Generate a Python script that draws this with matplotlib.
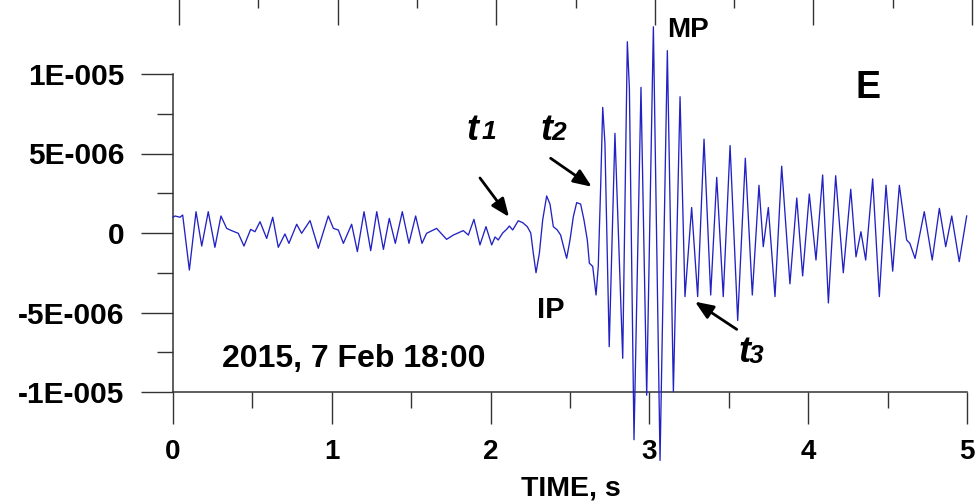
import matplotlib
matplotlib.use('Agg')
import matplotlib.pyplot as plt
from matplotlib.ticker import FixedLocator, MultipleLocator

plt.rcParams['font.family'] = ['Liberation Sans', 'DejaVu Sans']
plt.rcParams['font.weight'] = 'bold'

# E component record, time in s, amplitude in units of 1E-006
time_s = [
    0.000, 0.013, 0.044, 0.061, 0.103, 0.145, 0.181, 0.222, 0.264, 0.302,
    0.338, 0.369, 0.411, 0.447, 0.489, 0.516, 0.548, 0.590, 0.628, 0.663,
    0.705, 0.730, 0.779, 0.810, 0.863, 0.915, 0.978, 1.010, 1.041, 1.073,
    1.125, 1.161, 1.203, 1.245, 1.283, 1.325, 1.362, 1.400, 1.444, 1.486,
    1.528, 1.568, 1.597, 1.660, 1.723, 1.765, 1.828, 1.860, 1.895, 1.933,
    1.971, 2.007, 2.028, 2.048, 2.076, 2.101, 2.118, 2.139, 2.174, 2.202,
    2.231, 2.253, 2.269, 2.286, 2.307, 2.328, 2.353, 2.374, 2.395, 2.420,
    2.441, 2.462, 2.479, 2.500, 2.521, 2.542, 2.567, 2.588, 2.609, 2.622,
    2.643, 2.664, 2.678, 2.693, 2.706, 2.720, 2.747, 2.783, 2.832, 2.861,
    2.874, 2.903, 2.947, 2.983, 3.025, 3.067, 3.113, 3.151, 3.193, 3.224,
    3.266, 3.304, 3.344, 3.386, 3.424, 3.465, 3.508, 3.556, 3.604, 3.648,
    3.690, 3.717, 3.749, 3.791, 3.833, 3.885, 3.928, 3.965, 4.007, 4.049,
    4.091, 4.127, 4.173, 4.221, 4.268, 4.301, 4.332, 4.362, 4.406, 4.448,
    4.490, 4.532, 4.574, 4.620, 4.640, 4.673, 4.731, 4.781, 4.826, 4.866,
    4.904, 4.951, 4.998,
]
amp_e6 = [
    0.99, 1.07, 0.99, 1.13, -2.33, 1.34, -0.82, 1.34, -0.90, 1.07,
    0.29, 0.15, -0.02, -0.82, 0.23, 0.08, 0.71, -0.34, 0.99, -0.90,
    -0.06, -0.65, 0.55, -0.02, 0.78, -0.96, 1.07, 0.29, 0.19, -0.65,
    0.55, -1.17, 1.34, -1.11, 1.34, -1.03, 0.92, -0.65, 1.34, -0.65,
    1.07, -0.65, -0.02, 0.29, -0.40, -0.13, 0.15, -0.13, 0.86, -0.75,
    0.40, -0.75, -0.25, -0.44, 0.00, 0.23, 0.44, 0.19, 0.77, 0.65,
    0.40, 0.00, -1.28, -2.50, -1.28, 0.82, 2.33, 1.82, 0.40, 0.19,
    -0.13, -0.96, -1.59, -0.44, 1.03, 1.91, 1.82, 0.82, -0.44, -1.90,
    -2.10, -3.90, -2.10, 2.90, 7.90, 5.64, -7.15, 6.27, -7.88, 12.03,
    9.10, -13.0, 9.16, -10.2, 12.97, -14.3, 11.47, -9.98, 8.57, -4.0,
    1.6, -4.0, 5.9, -3.9, 3.5, -4.0, 5.5, -5.5, 4.7, -3.9,
    3.0, -0.86, 1.6, -4.0, 4.2, -3.2, 2.2, -2.7, 2.45, -1.7,
    3.65, -4.4, 3.6, -2.5, 2.75, -1.5, 0.08, -1.7, 3.4, -4.0,
    3.0, -2.4, 3.0, -0.44, -0.65, -1.6, 1.34, -1.7, 1.55, -0.86,
    1.07, -1.8, 1.07,
]

x_ticks = [0, 1, 2, 3, 4, 5]
y_ticks = [-1e-5, -5e-6, 0, 5e-6, 1e-5]
y_labels = ['-1E-005', '-5E-006', '0', '5E-006', '1E-005']

axis_color = '#333333'

fig = plt.figure(figsize=(9.76, 5.04), dpi=100)
ax = fig.add_axes([173 / 976, 112 / 504, 794 / 976, 318 / 504])

amp = [a * 1e-6 for a in amp_e6]
ax.plot(time_s, amp, color='#2222c4', lw=0.95, clip_on=False, zorder=3)

ax.set_xlim(0, 5)
ax.set_ylim(-1e-5, 1e-5)
ax.xaxis.set_major_locator(FixedLocator(x_ticks))
ax.xaxis.set_minor_locator(MultipleLocator(0.5))
ax.set_xticklabels([str(x) for x in x_ticks])
ax.yaxis.set_major_locator(FixedLocator(y_ticks))
ax.yaxis.set_minor_locator(MultipleLocator(2.5e-6))
ax.set_yticklabels(y_labels)

for side in ['top', 'right']:
    ax.spines[side].set_visible(False)
for side in ['left', 'bottom']:
    ax.spines[side].set_color(axis_color)
    ax.spines[side].set_linewidth(1.1)

ax.tick_params(which='major', direction='out', length=23, width=1.0,
               color=axis_color)
ax.tick_params(which='minor', direction='out', length=11.5, width=1.0,
               color=axis_color)
ax.tick_params(axis='y', which='major', pad=12, labelsize=21.5)
ax.tick_params(axis='x', which='major', pad=11, labelsize=20)

fig.text(571 / 976, 8 / 504, 'TIME, s', ha='center', va='baseline', fontsize=20.5)

# labels on the trace
ax.text(3.111, 12.33e-6, 'MP', fontsize=20, va='baseline', ha='left')
ax.text(4.295, 8.49e-6, 'E', fontsize=27, va='baseline', ha='left')
ax.text(2.292, -5.35e-6, 'IP', fontsize=21, va='baseline', ha='left')
ax.text(0.309, -8.43e-6, '2015, 7 Feb 18:00', fontsize=23, va='baseline', ha='left')

marks = [
    ('t', '1', (1.851, 5.85e-6), (1.945, 5.91e-6)),
    ('t', '2', (2.311, 5.85e-6), (2.381, 5.85e-6)),
    ('t', '3', (3.558, -8.11e-6), (3.628, -8.18e-6)),
]
for main, sub, p_main, p_sub in marks:
    ax.text(p_main[0], p_main[1], main, fontsize=26, fontstyle='italic',
            va='baseline', ha='left')
    ax.text(p_sub[0], p_sub[1], sub, fontsize=19, fontstyle='italic',
            va='baseline', ha='left')

arrows = [
    ((1.933, 3.46e-6), (2.116, 1.01e-6)),
    ((2.378, 4.70e-6), (2.637, 2.91e-6)),
    ((3.550, -6.06e-6), (3.287, -4.32e-6)),
]
for start, tip in arrows:
    ax.annotate('', xy=tip, xytext=start, annotation_clip=False,
                arrowprops=dict(arrowstyle='-|>,head_length=1.1,head_width=0.45',
                                color='black', lw=2, shrinkA=0, shrinkB=0,
                                mutation_scale=10))

# bottom edge of the panel above
ax_up = fig.add_axes([179 / 976, 513 / 504, 793 / 976, 0.3])
ax_up.set_xlim(0, 5)
ax_up.set_ylim(0, 1)
ax_up.xaxis.set_major_locator(FixedLocator(x_ticks))
ax_up.xaxis.set_minor_locator(MultipleLocator(0.5))
ax_up.yaxis.set_major_locator(FixedLocator([0.025]))
ax_up.set_yticklabels(['-1.2E-005'])
for side in ['top', 'right', 'left', 'bottom']:
    ax_up.spines[side].set_color(axis_color)
ax_up.tick_params(which='major', direction='out', length=24.5, width=1.0,
                  color=axis_color, labelbottom=False)
ax_up.tick_params(which='minor', direction='out', length=12.5, width=1.0,
                  color=axis_color)
ax_up.tick_params(axis='y', which='major', pad=12, labelsize=21.5)

fig.savefig('out.png', dpi=100)
